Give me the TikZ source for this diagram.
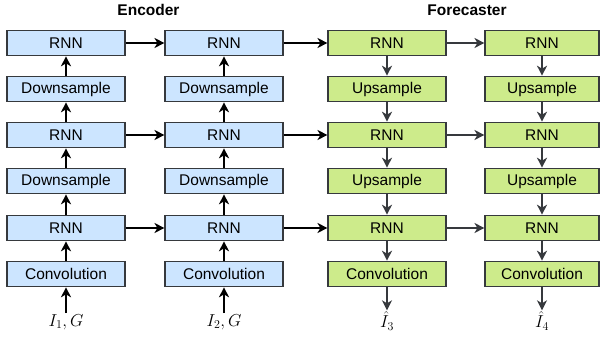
\documentclass[tikz,border=0pt]{standalone}
\usepackage{fontspec}
\newfontfamily\helv{Liberation Sans}
\usetikzlibrary{arrows.meta}
\definecolor{encfill}{HTML}{CCE5FF}
\definecolor{forfill}{HTML}{CDEB8B}
\definecolor{boxline}{HTML}{36393D}
\definecolor{grayarrow}{HTML}{36393D}
\tikzset{
  box/.style={draw=boxline, line width=1.1pt, minimum width=118pt, minimum height=25.5pt, inner sep=0pt, font=\helv\fontsize{15.5}{18}\selectfont},
  encbox/.style={box, fill=encfill},
  forbox/.style={box, fill=forfill},
  earrow/.style={draw=black, line width=1.8pt, -{Stealth[length=10pt,width=10pt,inset=3pt]}},
  farrow/.style={draw=grayarrow, line width=1.5pt, -{Stealth[length=10pt,width=10pt,inset=3pt]}},
  title/.style={font=\helv\bfseries\fontsize{15.5}{18}\selectfont},
  lab/.style={font=\fontsize{18}{21}\selectfont, inner sep=1pt}
}
\begin{document}
\begin{tikzpicture}[x=1pt,y=-1pt]
\useasboundingbox (0,0) rectangle (600,339);
% titles
\node[title] (tenc) at (148.5,10) {Encoder};
\node[title] (tfor) at (467,10) {Forecaster};
% encoder columns
\foreach \c/\x in {1/66,2/224}{
  \node[encbox] (r1\c) at (\x,43) {RNN};
  \node[encbox] (d1\c) at (\x,89) {Downsample};
  \node[encbox] (r2\c) at (\x,135) {RNN};
  \node[encbox] (d2\c) at (\x,181) {Downsample};
  \node[encbox] (r3\c) at (\x,228) {RNN};
  \node[encbox] (cv\c) at (\x,274) {Convolution};
  \draw[earrow] (cv\c) -- (r3\c);
  \draw[earrow] (r3\c) -- (d2\c);
  \draw[earrow] (d2\c) -- (r2\c);
  \draw[earrow] (r2\c) -- (d1\c);
  \draw[earrow] (d1\c) -- (r1\c);
}
\node[lab] (in1) at (66,322) {$I_1, G$};
\node[lab] (in2) at (224,322) {$I_2, G$};
\draw[earrow] (in1) -- (cv1);
\draw[earrow] (in2) -- (cv2);
% forecaster columns
\foreach \c/\x/\w in {3/387/118,4/542/114}{
  \node[forbox, minimum width=\w pt] (r1\c) at (\x,43) {RNN};
  \node[forbox, minimum width=\w pt] (d1\c) at (\x,89) {Upsample};
  \node[forbox, minimum width=\w pt] (r2\c) at (\x,135) {RNN};
  \node[forbox, minimum width=\w pt] (d2\c) at (\x,181) {Upsample};
  \node[forbox, minimum width=\w pt] (r3\c) at (\x,228) {RNN};
  \node[forbox, minimum width=\w pt] (cv\c) at (\x,274) {Convolution};
  \draw[farrow] (r1\c) -- (d1\c);
  \draw[farrow] (d1\c) -- (r2\c);
  \draw[farrow] (r2\c) -- (d2\c);
  \draw[farrow] (d2\c) -- (r3\c);
  \draw[farrow] (r3\c) -- (cv\c);
}
\node[lab] (out3) at (387,321) {$\hat{I}_3$};
\node[lab] (out4) at (542,321) {$\hat{I}_4$};
\draw[farrow] (cv3) -- (out3);
\draw[farrow] (cv4) -- (out4);
% horizontal connections
\foreach \r in {r1,r2,r3}{
  \draw[earrow] (\r1) -- (\r2);
  \draw[earrow] (\r2) -- (\r3);
  \draw[farrow] (\r3) -- (\r4);
}
\end{tikzpicture}
\end{document}
